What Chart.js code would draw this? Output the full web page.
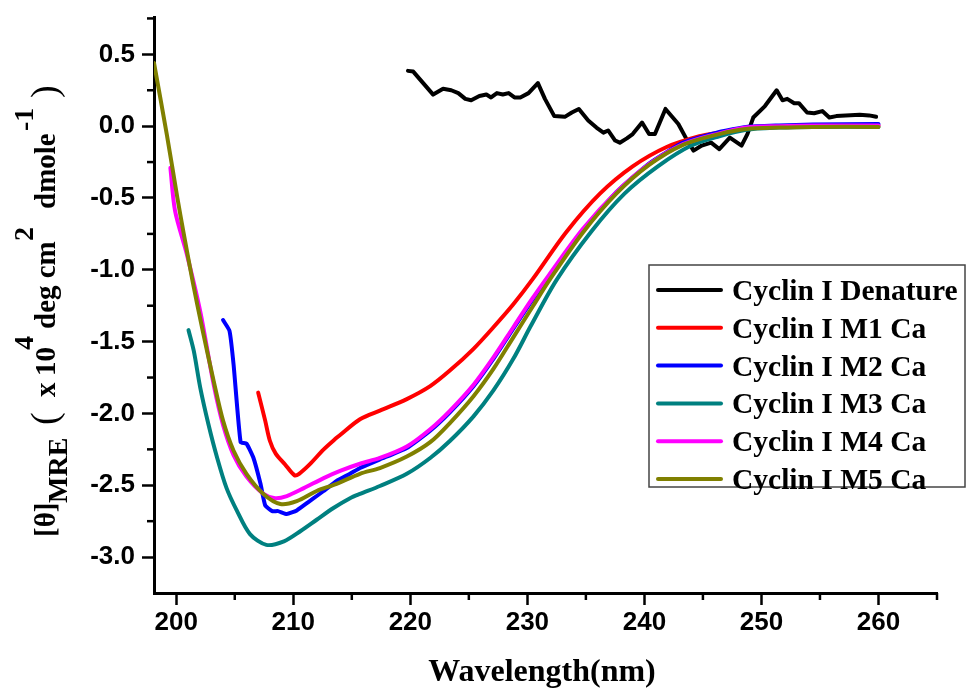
<!DOCTYPE html>
<html>
<head>
<meta charset="utf-8">
<script src="https://cdn.jsdelivr.net/npm/chart.js@4"></script>
<style>
html,body{margin:0;padding:0;background:#fff;}
#wrap{position:relative;width:968px;height:693px;}
</style>
</head>
<body>
<div id="wrap"><canvas id="c" width="968" height="693"></canvas></div>
<script>
// ---- data ----
const seriesNames = ['Cyclin I Denature','Cyclin I M1 Ca','Cyclin I M2 Ca','Cyclin I M3 Ca','Cyclin I M4 Ca','Cyclin I M5 Ca'];
const seriesColors = ['#000000','#ff0000','#0000ff','#008080','#ff00ff','#808000'];

const xTicks = [200,210,220,230,240,250,260];
const xMinorTicks = [205,215,225,235,245,255,265];
const yTicks = [0.5,0.0,-0.5,-1.0,-1.5,-2.0,-2.5,-3.0];
const yMinorTicks = [0.75,0.25,-0.25,-0.75,-1.25,-1.75,-2.25,-2.75];

const denX = [219.8,220.25,221.1,221.95,222.8,223.5,224.1,224.7,225.2,225.9,226.5,226.9,227.4,227.9,228.4,228.9,229.4,230.1,230.9,231.5,232.3,233.2,233.8,234.4,235.2,235.9,236.5,236.9,237.5,237.9,238.5,239.0,239.8,240.4,240.9,241.8,242.9,243.6,244.2,244.9,245.7,246.4,247.3,248.3,248.8,249.3,250.3,251.3,251.8,252.2,252.8,253.2,253.9,254.5,255.2,255.8,256.4,257.2,258.4,259.2,259.8];
const denY = [0.385,0.38,0.30,0.22,0.26,0.25,0.23,0.19,0.18,0.21,0.22,0.20,0.23,0.22,0.23,0.20,0.20,0.23,0.30,0.19,0.07,0.065,0.095,0.12,0.04,-0.01,-0.045,-0.03,-0.10,-0.115,-0.085,-0.055,0.025,-0.055,-0.055,0.12,0.015,-0.09,-0.17,-0.135,-0.115,-0.16,-0.08,-0.135,-0.055,0.06,0.14,0.25,0.18,0.19,0.16,0.16,0.095,0.09,0.105,0.06,0.07,0.075,0.08,0.075,0.065];

const m1X = [207.0,207.6,208.0,208.5,209.3,210.1,210.5,211.4,212.6,213.7,214.0,215.7,217.4,219.7,221.7,223.4,225.4,227.1,228.8,230.5,233.3,236.2,239.0,241.9,244.7,246.4,248.7,251.5,254.4,260.0];
const m1Y = [-1.855,-2.05,-2.19,-2.28,-2.355,-2.43,-2.42,-2.355,-2.25,-2.17,-2.15,-2.04,-1.98,-1.90,-1.81,-1.70,-1.55,-1.40,-1.24,-1.06,-0.74,-0.47,-0.28,-0.145,-0.07,-0.045,-0.015,-0.005,0.0,0.005];

const m2X = [204.0,204.55,204.9,205.5,206.0,206.6,207.2,207.6,208.2,208.7,209.45,210.3,211.4,212.6,213.7,214.85,215.7,217.4,219.7,221.7,223.4,225.4,227.1,228.8,230.3,231.9,234.75,237.6,240.4,243.3,246.4,248.7,251.5,254.4,260.0];
const m2Y = [-1.35,-1.425,-1.66,-2.20,-2.21,-2.31,-2.49,-2.64,-2.68,-2.68,-2.70,-2.675,-2.61,-2.54,-2.47,-2.42,-2.38,-2.32,-2.24,-2.12,-1.99,-1.81,-1.62,-1.41,-1.225,-1.04,-0.725,-0.46,-0.26,-0.115,-0.04,-0.005,0.005,0.012,0.015];

const m3X = [201.05,201.5,202.05,202.75,203.5,204.3,205.2,206.3,207.7,209.2,210.6,212.0,213.4,214.85,215.7,217.4,219.7,221.7,223.4,225.4,227.1,228.8,230.3,232.5,235.5,238.3,241.15,244.0,246.4,248.7,251.5,254.4,260.0];
const m3Y = [-1.42,-1.565,-1.82,-2.075,-2.31,-2.52,-2.68,-2.84,-2.915,-2.89,-2.82,-2.74,-2.66,-2.59,-2.56,-2.505,-2.42,-2.31,-2.19,-2.02,-1.84,-1.62,-1.39,-1.07,-0.73,-0.47,-0.28,-0.135,-0.07,-0.025,-0.01,-0.005,-0.005];

const m4X = [199.5,199.9,200.9,202.05,203.2,204.0,204.9,206.0,207.45,208.45,209.45,210.9,212.6,214.0,215.7,217.4,219.7,221.7,223.4,225.4,227.1,228.8,230.3,231.9,234.75,237.6,240.4,243.3,246.4,248.7,251.5,254.4,260.0];
const m4Y = [-0.29,-0.59,-0.89,-1.29,-1.80,-2.08,-2.29,-2.44,-2.56,-2.59,-2.575,-2.52,-2.45,-2.40,-2.35,-2.31,-2.23,-2.11,-1.98,-1.80,-1.61,-1.40,-1.215,-1.03,-0.715,-0.46,-0.265,-0.125,-0.05,-0.01,0.0,0.005,0.005];

const m5X = [198.1,199.2,200.1,200.6,201.4,202.2,203.2,204.0,204.9,206.0,207.45,208.9,210.3,212.0,213.7,215.7,217.4,219.7,221.7,223.4,225.4,227.1,228.8,230.5,231.9,234.75,237.6,240.4,243.3,246.4,248.7,251.5,254.4,260.0];
const m5Y = [0.44,-0.06,-0.50,-0.73,-1.08,-1.40,-1.775,-2.05,-2.26,-2.42,-2.56,-2.63,-2.61,-2.54,-2.49,-2.42,-2.38,-2.30,-2.20,-2.065,-1.88,-1.69,-1.47,-1.25,-1.07,-0.74,-0.47,-0.27,-0.13,-0.055,-0.02,-0.01,-0.005,-0.005];

const allX = [denX,m1X,m2X,m3X,m4X,m5X];
const allY = [denY,m1Y,m2Y,m3Y,m4Y,m5Y];
const tensions = [0,0.3,0.15,0.3,0.3,0.3];

// ---- build chart ----
const datasets = seriesNames.map((name,i)=>({
  label:name,
  data: allX[i].map((x,j)=>({x:x,y:allY[i][j]})),
  borderColor: seriesColors[i],
  backgroundColor: seriesColors[i],
  borderWidth: 4,
  pointRadius: 0,
  showLine: true,
  tension: tensions[i],
  borderJoinStyle:'round',
  borderCapStyle:'round',
  order: 6 - i
}));

const SANS = '"Liberation Sans", Arial, sans-serif';
const SERIF = '"Liberation Serif", "Times New Roman", serif';

// y title pieces: text, font size, baseline shift, screen y where the piece starts, bold
const yTitleParts = [
  {t:'[θ]', s:29, d:0, at:537, b:true},
  {t:'MRE', s:28, d:12, at:503, b:true},
  {t:'(', s:38, d:2, at:425, b:false},
  {t:'x', s:29, d:0, at:397, b:true},
  {t:'10', s:29, d:0, at:376, b:true},
  {t:'4', s:28, d:-22, at:350, b:true},
  {t:'deg cm', s:29, d:0, at:329, b:true},
  {t:'2', s:28, d:-22, at:241, b:true},
  {t:'dmole', s:29, d:0, at:209, b:true},
  {t:'-1', s:28, d:-22, at:131, b:true},
  {t:')', s:38, d:2, at:98, b:false}
];

const extras = {
  id:'extras',
  afterDraw(chart){
    const ctx = chart.ctx;
    const xs = chart.scales.x, ys = chart.scales.y;
    const ca = chart.chartArea;
    ctx.save();
    // minor ticks
    ctx.strokeStyle = '#000'; ctx.lineWidth = 2.5;
    xMinorTicks.forEach(v=>{
      const px = xs.getPixelForValue(v);
      ctx.beginPath(); ctx.moveTo(px, ca.bottom); ctx.lineTo(px, ca.bottom+7); ctx.stroke();
    });
    yMinorTicks.forEach(v=>{
      const py = ys.getPixelForValue(v);
      ctx.beginPath(); ctx.moveTo(ca.left, py); ctx.lineTo(ca.left-7, py); ctx.stroke();
    });
    // x title
    ctx.fillStyle = '#000';
    ctx.font = 'bold 32px ' + SERIF;
    ctx.textAlign = 'center'; ctx.textBaseline = 'alphabetic';
    ctx.fillText('Wavelength(nm)', 542, 681);
    ctx.restore();

    // y title (rotated rich text)
    yTitleParts.forEach(p=>{
      ctx.save();
      ctx.translate(55, p.at);
      ctx.rotate(-Math.PI/2);
      ctx.fillStyle = '#000';
      ctx.textAlign = 'left'; ctx.textBaseline = 'alphabetic';
      ctx.font = (p.b ? 'bold ' : '') + p.s + 'px ' + SERIF;
      ctx.fillText(p.t, 0, p.d);
      ctx.restore();
    });

    // legend
    ctx.save();
    ctx.fillStyle = '#fff';
    ctx.fillRect(649, 265, 316, 222);
    ctx.strokeStyle = '#444'; ctx.lineWidth = 1.5;
    ctx.strokeRect(649, 265, 316, 222);
    ctx.font = 'bold 29.5px ' + SERIF;
    ctx.textAlign = 'left'; ctx.textBaseline = 'alphabetic';
    chart.data.datasets.forEach((ds,i)=>{
      const y = 290 + i*37.8;
      ctx.strokeStyle = ds.borderColor; ctx.lineWidth = 4; ctx.lineCap = 'round';
      ctx.beginPath(); ctx.moveTo(658, y); ctx.lineTo(721, y); ctx.stroke();
      ctx.fillStyle = '#000';
      ctx.fillText(ds.label, 732, y + 10);
    });
    ctx.restore();
  }
};

new Chart(document.getElementById('c'), {
  type:'scatter',
  data:{datasets:datasets},
  options:{
    responsive:false,
    animation:false,
    events:[],
    layout:{padding:{left:0, top:17, right:31, bottom:0}},
    plugins:{legend:{display:false}, tooltip:{enabled:false}, title:{display:false}},
    scales:{
      x:{
        type:'linear', min:198.1, max:265,
        afterFit(s){ s.height = 100; },
        afterBuildTicks(s){ s.ticks = xTicks.map(v=>({value:v})); },
        border:{display:true, color:'#000', width:3},
        grid:{display:true, drawOnChartArea:false, drawTicks:true, tickLength:12, tickWidth:2.5, tickColor:'#000', color:'#000'},
        ticks:{color:'#000', font:{family:SANS, size:26, weight:'bold'}, padding:2, maxRotation:0,
               callback:v=>String(v)}
      },
      y:{
        type:'linear', min:-3.25, max:0.76,
        afterFit(s){ s.width = 154; },
        afterBuildTicks(s){ s.ticks = yTicks.map(v=>({value:v})); },
        border:{display:true, color:'#000', width:3},
        grid:{display:true, drawOnChartArea:false, drawTicks:true, tickLength:12, tickWidth:2.5, tickColor:'#000', color:'#000'},
        ticks:{color:'#000', font:{family:SANS, size:26, weight:'bold', lineHeight:0.5}, padding:7,
               callback:v=>Number(v).toFixed(1)}
      }
    }
  },
  plugins:[extras]
});
</script>
</body>
</html>
